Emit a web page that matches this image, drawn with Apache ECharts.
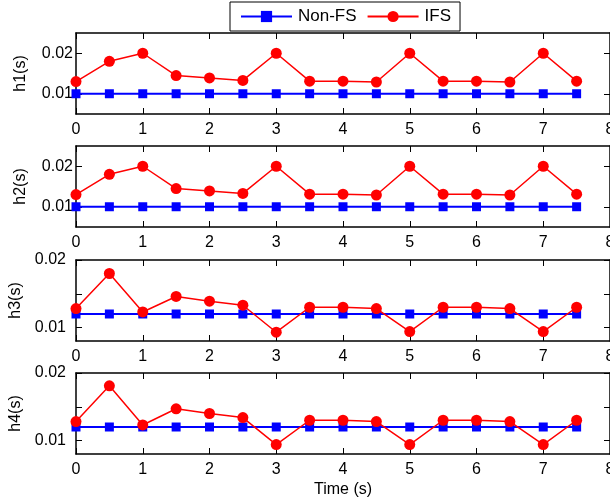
<!DOCTYPE html>
<html>
<head>
<meta charset="utf-8">
<script src="https://cdn.jsdelivr.net/npm/echarts@6/dist/echarts.min.js"></script>
<style>
html,body{margin:0;padding:0;background:#fff;}
#chart{width:610px;height:500px;}
</style>
</head>
<body>
<div id="chart"></div>
<script>
var time = [0, 0.5, 1, 1.5, 2, 2.5, 3, 3.5, 4, 4.5, 5, 5.5, 6, 6.5, 7, 7.5];
var h1NonFS = [0.01, 0.01, 0.01, 0.01, 0.01, 0.01, 0.01, 0.01, 0.01, 0.01, 0.01, 0.01, 0.01, 0.01, 0.01, 0.01];
var h1IFS = [0.0130, 0.0180, 0.0200, 0.0145, 0.0139, 0.0133, 0.0200, 0.0131, 0.0131, 0.0129, 0.0200, 0.0131, 0.0131, 0.0129, 0.0200, 0.0131];
var h2NonFS = [0.01, 0.01, 0.01, 0.01, 0.01, 0.01, 0.01, 0.01, 0.01, 0.01, 0.01, 0.01, 0.01, 0.01, 0.01, 0.01];
var h2IFS = [0.0130, 0.0180, 0.0200, 0.0145, 0.0139, 0.0133, 0.0200, 0.0131, 0.0131, 0.0129, 0.0200, 0.0131, 0.0131, 0.0129, 0.0200, 0.0131];
var h3NonFS = [0.012, 0.012, 0.012, 0.012, 0.012, 0.012, 0.012, 0.012, 0.012, 0.012, 0.012, 0.012, 0.012, 0.012, 0.012, 0.012];
var h3IFS = [0.0128, 0.0180, 0.0123, 0.0146, 0.0139, 0.0133, 0.0093, 0.0130, 0.0130, 0.0128, 0.0094, 0.0130, 0.0130, 0.0128, 0.0094, 0.0130];
var h4NonFS = [0.012, 0.012, 0.012, 0.012, 0.012, 0.012, 0.012, 0.012, 0.012, 0.012, 0.012, 0.012, 0.012, 0.012, 0.012, 0.012];
var h4IFS = [0.0128, 0.0181, 0.0123, 0.0147, 0.0140, 0.0134, 0.0094, 0.0130, 0.0130, 0.0128, 0.0094, 0.0130, 0.0130, 0.0128, 0.0094, 0.0130];
var xTicks = [0, 1, 2, 3, 4, 5, 6, 7, 8];
var yNames = ['h1(s)', 'h2(s)', 'h3(s)', 'h4(s)'];
var seriesNames = ['Non-FS', 'IFS'];

var panels = [
  {nonfs: h1NonFS, ifs: h1IFS, min: 0.005, max: 0.025, ticks: [0.01, 0.02], labels: [0.01, 0.02], top: 33, margin: 3, gap: 47},
  {nonfs: h2NonFS, ifs: h2IFS, min: 0.005, max: 0.025, ticks: [0.01, 0.02], labels: [0.01, 0.02], top: 146, margin: 3, gap: 47},
  {nonfs: h3NonFS, ifs: h3IFS, min: 0.008, max: 0.02, ticks: [0.01, 0.015, 0.02], labels: [0.01, 0.02], top: 260, margin: 10, gap: 51},
  {nonfs: h4NonFS, ifs: h4IFS, min: 0.008, max: 0.02, ticks: [0.01, 0.015, 0.02], labels: [0.01, 0.02], top: 373, margin: 10, gap: 51}
];

var FONT = '"Liberation Sans", Arial, Helvetica, sans-serif';
var axisLine = {show: true, onZero: false, lineStyle: {color: '#000', width: 1.5}};
var grids = [], xAxes = [], yAxes = [], series = [];

panels.forEach(function (p, i) {
  grids.push({left: 76, width: 534, top: p.top, height: 81, show: false, containLabel: false, outerBoundsMode: 'none'});
  xAxes.push({
    type: 'value', gridIndex: i, position: 'bottom', min: 0, max: 8, interval: 1,
    name: i === 3 ? 'Time (s)' : '', nameLocation: 'middle', nameGap: 28,
    nameTextStyle: {fontFamily: FONT, fontSize: 16, color: '#000'},
    axisLine: axisLine,
    axisTick: {show: true, inside: true, length: 6, lineStyle: {color: '#000', width: 1}},
    axisLabel: {show: true, margin: 8, fontFamily: FONT, fontSize: 16, color: '#000',
      customValues: xTicks, formatter: function (v) { return String(v); }},
    splitLine: {show: false}
  });
  xAxes.push({
    type: 'value', gridIndex: i, position: 'top', min: 0, max: 8, interval: 1,
    axisLine: axisLine,
    axisTick: {show: true, inside: true, length: 6, lineStyle: {color: '#000', width: 1}},
    axisLabel: {show: false}, splitLine: {show: false}
  });
  yAxes.push({
    type: 'value', gridIndex: i, position: 'left', min: p.min, max: p.max,
    name: yNames[i], nameLocation: 'middle', nameGap: p.gap, nameRotate: 90,
    nameTextStyle: {fontFamily: FONT, fontSize: 16, color: '#000'},
    axisLine: axisLine,
    axisTick: {show: true, inside: true, length: 6, customValues: p.ticks, lineStyle: {color: '#000', width: 1}},
    axisLabel: {show: true, margin: p.margin, fontFamily: FONT, fontSize: 16, color: '#000',
      customValues: p.labels, formatter: function (v) { return v.toFixed(2); }},
    splitLine: {show: false}
  });
  yAxes.push({
    type: 'value', gridIndex: i, position: 'right', min: p.min, max: p.max,
    axisLine: axisLine,
    axisTick: {show: true, inside: true, length: 6, customValues: p.ticks, lineStyle: {color: '#000', width: 1}},
    axisLabel: {show: false}, splitLine: {show: false}
  });
  series.push({
    name: seriesNames[0], type: 'line', xAxisIndex: 2 * i, yAxisIndex: 2 * i,
    data: time.map(function (t, k) { return [t, p.nonfs[k]]; }),
    symbol: 'rect', symbolSize: 9, showAllSymbol: true,
    lineStyle: {color: '#0000ff', width: 1.8}, itemStyle: {color: '#0000ff'},
    z: 2
  });
  series.push({
    name: seriesNames[1], type: 'line', xAxisIndex: 2 * i, yAxisIndex: 2 * i,
    data: time.map(function (t, k) { return [t, p.ifs[k]]; }),
    symbol: 'circle', symbolSize: 11, showAllSymbol: true,
    lineStyle: {color: '#ff0000', width: 1.5}, itemStyle: {color: '#ff0000'},
    z: 3
  });
});

var chart = echarts.init(document.getElementById('chart'), null, {renderer: 'canvas'});
chart.setOption({
  animation: false,
  backgroundColor: '#fff',
  legend: {
    data: seriesNames, left: 230, top: 2,
    padding: [6, 9, 6, 10], itemWidth: 51, itemHeight: 14, itemGap: 10,
    borderColor: '#000', borderWidth: 1, backgroundColor: '#fff',
    textStyle: {fontFamily: FONT, fontSize: 17, color: '#000', padding: [0, 0, 0, 1]}
  },
  grid: grids, xAxis: xAxes, yAxis: yAxes, series: series
});
</script>
</body>
</html>
